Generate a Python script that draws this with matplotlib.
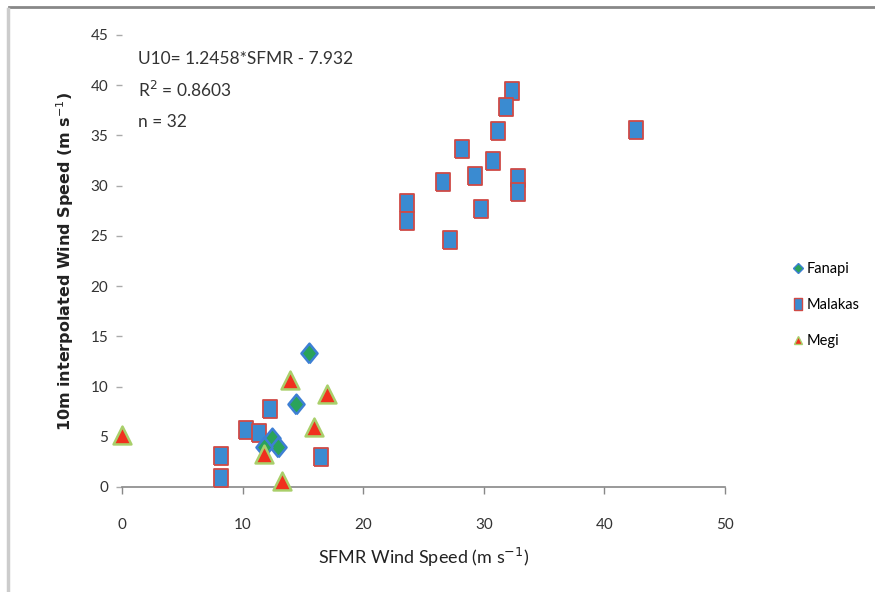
import matplotlib
matplotlib.use("Agg")
import matplotlib.pyplot as plt
from matplotlib.lines import Line2D
import numpy as np

# Data
fanapi_x = [15.5, 14.4, 12.4, 12.9, 11.8]
fanapi_y = [13.3, 8.3, 4.9, 4.0, 4.0]

malakas_x = [42.6, 32.3, 31.8, 31.2, 28.2, 30.8, 26.6, 29.3, 32.8, 32.8, 29.8, 23.6, 23.6, 27.2,
             8.2, 8.2, 10.3, 11.4, 12.3, 16.5]
malakas_y = [35.5, 39.4, 37.8, 35.4, 33.7, 32.5, 30.4, 31.0, 30.8, 29.4, 27.7, 28.3, 26.5, 24.6,
             3.1, 0.9, 5.7, 5.4, 7.8, 3.0]

megi_x = [0.0, 13.9, 17.0, 15.9, 11.8, 13.3]
megi_y = [5.2, 10.7, 9.3, 6.0, 3.3, 0.6]

x_ticks = [0, 10, 20, 30, 40, 50]
y_ticks = [0, 5, 10, 15, 20, 25, 30, 35, 40, 45]

annotation = ["U10= 1.2458*SFMR - 7.932", "R$^2$ = 0.8603", "n = 32"]

plt.rcParams['font.family'] = ['Lato', 'DejaVu Sans']

fig = plt.figure(figsize=(8.75, 5.92), dpi=100)
ax = fig.add_axes([122/875, 1-487/592, (725-122)/875, (487-35)/592])

rect = [(-0.75, -1), (0.75, -1), (0.75, 1), (-0.75, 1), (-0.75, -1)]
diamond = [(0, -1.1), (0.9, 0), (0, 1.1), (-0.9, 0), (0, -1.1)]

ax.scatter(malakas_x, malakas_y, marker=rect, s=165, facecolor='#3a8bd1',
           edgecolor='#cf4a46', linewidths=1.3, zorder=3, clip_on=False)
ax.scatter(fanapi_x, fanapi_y, marker=diamond, s=200, facecolor='#2aa35a',
           edgecolor='#3d7fd4', linewidths=1.8, zorder=4, clip_on=False)
ax.scatter(megi_x, megi_y, marker='^', s=165, facecolor='#f0301e',
           edgecolor='#a9cf6a', linewidths=1.8, zorder=5, clip_on=False)

ax.set_xlim(0, 50)
ax.set_ylim(0, 45)
ax.set_xticks(x_ticks)
ax.set_yticks(y_ticks)
ax.tick_params(axis='both', labelsize=11, colors='#444444', labelcolor='#333333')
ax.tick_params(axis='y', length=4, width=1, color='#aaaaaa', pad=6)
ax.tick_params(axis='x', length=5, width=1, color='#888888', pad=17)

for s in ['top', 'right', 'left']:
    ax.spines[s].set_visible(False)
ax.spines['bottom'].set_color('#888888')
ax.spines['bottom'].set_linewidth(1.2)

ax.set_xlabel("SFMR Wind Speed (m s$^{-1}$)", fontsize=13, color='#222222', labelpad=10)
ax.set_ylabel("10m interpolated Wind Speed (m s$^{-1}$)", fontsize=11.5, fontweight='bold',
              family=['DejaVu Sans'], color='#222222', labelpad=10)

for i, line in enumerate(annotation):
    ax.text(1.3, 42.6 - i * 3.12, line, fontsize=12.5, color='#333333', va='center', ha='left')

handles = [
    Line2D([], [], linestyle='none', marker='D', markersize=5, markerfacecolor='#2aa35a',
           markeredgecolor='#3d7fd4', label='Fanapi'),
    Line2D([], [], linestyle='none', marker=rect, markersize=8, markerfacecolor='#3a8bd1',
           markeredgecolor='#cf4a46', label='Malakas'),
    Line2D([], [], linestyle='none', marker='^', markersize=6, markerfacecolor='#f0301e',
           markeredgecolor='#a9cf6a', label='Megi'),
]
fig.legend(handles=handles, loc='center left', bbox_to_anchor=(785/875, 1-305/592),
           frameon=False, fontsize=10.5, handletextpad=0.1, labelspacing=1.5,
           handlelength=1.0, borderaxespad=0)

# figure border lines
fig.add_artist(Line2D([9/875, 1], [1-7/592, 1-7/592], transform=fig.transFigure,
                      color='#888888', linewidth=2))
fig.add_artist(Line2D([8/875, 8/875], [0, 1-9/592], transform=fig.transFigure,
                      color='#cccccc', linewidth=2.5))

fig.savefig("out.png", dpi=100)
